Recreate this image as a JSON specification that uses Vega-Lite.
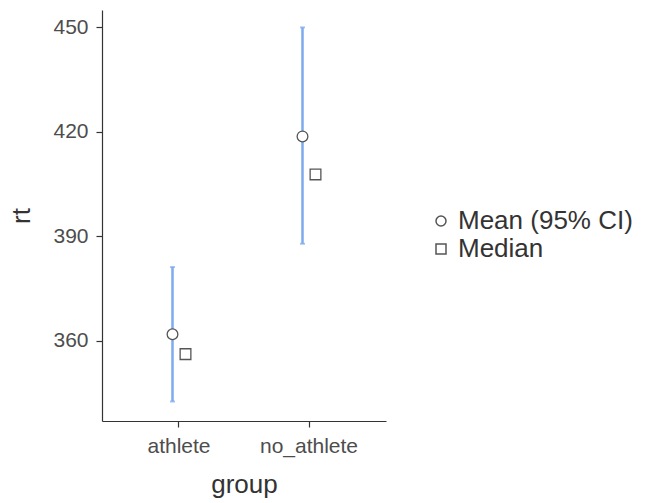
{
  "$schema": "https://vega.github.io/schema/vega-lite/v6.json",
  "autosize": "none",
  "width": 284,
  "height": 411,
  "padding": {"left": 102, "top": 10, "right": 269, "bottom": 82},
  "background": "white",
  "config": {
    "view": {"stroke": null},
    "font": "Liberation Sans",
    "axis": {
      "grid": false,
      "domainColor": "#333333",
      "domainWidth": 1.2,
      "tickColor": "#333333",
      "tickWidth": 1.2,
      "tickSize": 6,
      "labelColor": "#4d4d4d",
      "labelFontSize": 21,
      "titleFontSize": 26,
      "titleFontWeight": "normal",
      "titleColor": "#333333"
    }
  },
  "datasets": {
    "ci": [
      {"group": "athlete", "stat": "Mean (95% CI)", "mean": 361.9, "lower": 342.6, "upper": 381.2},
      {"group": "no_athlete", "stat": "Mean (95% CI)", "mean": 418.7, "lower": 387.9, "upper": 450.0}
    ],
    "pts": [
      {"group": "athlete", "stat": "Mean (95% CI)", "value": 361.9},
      {"group": "athlete", "stat": "Median", "value": 356.2},
      {"group": "no_athlete", "stat": "Mean (95% CI)", "value": 418.7},
      {"group": "no_athlete", "stat": "Median", "value": 407.8}
    ]
  },
  "layer": [
    {
      "data": {"name": "ci"},
      "mark": {"type": "rule", "color": "#7EAAEE", "strokeWidth": 2.5},
      "encoding": {
        "x": {
          "field": "group",
          "type": "nominal",
          "scale": {"type": "band", "paddingInner": 0.8, "paddingOuter": 0.4923},
          "axis": {"labelAngle": 0, "title": "group", "labelPadding": 8, "titlePadding": 15}
        },
        "xOffset": {
          "field": "stat",
          "type": "nominal",
          "scale": {"domain": ["Mean (95% CI)", "Median"], "paddingInner": 0, "paddingOuter": 0}
        },
        "y": {
          "field": "lower",
          "type": "quantitative",
          "scale": {"domain": [337, 455], "nice": false, "zero": false},
          "axis": {"values": [360, 390, 420, 450], "title": "rt", "titlePadding": 18, "labelPadding": 8}
        },
        "y2": {"field": "upper"}
      }
    },
    {
      "data": {"name": "ci"},
      "mark": {"type": "tick", "color": "#7EAAEE", "size": 5, "thickness": 2},
      "encoding": {
        "x": {"field": "group", "type": "nominal"},
        "xOffset": {"field": "stat", "type": "nominal"},
        "y": {"field": "lower", "type": "quantitative"}
      }
    },
    {
      "data": {"name": "ci"},
      "mark": {"type": "tick", "color": "#7EAAEE", "size": 5, "thickness": 2},
      "encoding": {
        "x": {"field": "group", "type": "nominal"},
        "xOffset": {"field": "stat", "type": "nominal"},
        "y": {"field": "upper", "type": "quantitative"}
      }
    },
    {
      "data": {"name": "pts"},
      "mark": {"type": "point", "filled": false, "fill": "white", "color": "#555555", "strokeWidth": 1.3, "opacity": 1, "size": 115},
      "encoding": {
        "x": {"field": "group", "type": "nominal"},
        "xOffset": {"field": "stat", "type": "nominal"},
        "y": {"field": "value", "type": "quantitative"},
        "shape": {
          "field": "stat",
          "type": "nominal",
          "scale": {"domain": ["Mean (95% CI)", "Median"], "range": ["circle", "square"]},
          "legend": {
            "title": null,
            "orient": "none",
            "legendX": 326,
            "legendY": 198,
            "labelFontSize": 26,
            "labelColor": "#333333",
            "labelLimit": 300
          }
        }
      }
    }
  ]
}
